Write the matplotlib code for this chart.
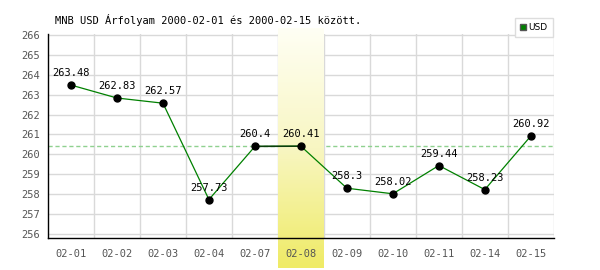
import numpy as np
import matplotlib.pyplot as plt
from matplotlib.colors import LinearSegmentedColormap

# MNB USD rates, 2000-02-01 .. 2000-02-15
dates = ["02-01", "02-02", "02-03", "02-04", "02-07", "02-08",
         "02-09", "02-10", "02-11", "02-14", "02-15"]
rates = [263.48, 262.83, 262.57, 257.73, 260.4, 260.41,
         258.3, 258.02, 259.44, 258.23, 260.92]
rate_labels = ["263.48", "262.83", "262.57", "257.73", "260.4", "260.41",
               "258.3", "258.02", "259.44", "258.23", "260.92"]
highlight_idx = 5
ref_rate = 260.41

mono = "DejaVu Sans Mono"

fig = plt.figure(figsize=(6, 2.7), dpi=100)
ax = fig.add_axes([0.08, 0.1185, 0.843, 0.756])

x = np.arange(len(dates))
ymin, ymax = 255.8, 266.05
ax.set_xlim(-0.5, len(dates) - 0.5)
ax.set_ylim(ymin, ymax)

# grid
for v in np.arange(-0.5, len(dates), 1.0)[1:]:
    ax.axvline(v, color="#d9d9d9", lw=1, zorder=1)
for v in range(256, 267):
    ax.axhline(v, color="#d9d9d9", lw=1, zorder=1)

ax.axhline(ref_rate, color="#8fd18f", lw=1, ls=(0, (3, 2)), zorder=1.2)

# highlighted day: white-to-yellow gradient, reaching past the axes
cmap = LinearSegmentedColormap.from_list("hl", ["#fffff4", "#f8f6c2", "#efeb66"])
grad = np.linspace(0, 1, 200).reshape(-1, 1)
ax.imshow(grad, cmap=cmap, aspect="auto", origin="upper",
          extent=(highlight_idx - 0.5, highlight_idx + 0.5, 254.3, 266.35),
          clip_on=False, zorder=1.5)

ax.plot(x, rates, color="#008000", lw=0.9, zorder=3)
ax.plot(x[highlight_idx - 1:highlight_idx + 1], rates[highlight_idx - 1:highlight_idx + 1],
        color="#0b3d0b", lw=1.1, zorder=3)
ax.plot(x, rates, "o", color="black", ms=5, zorder=4)

for xi, yi, lab in zip(x, rates, rate_labels):
    ax.annotate(lab, (xi, yi), xytext=(0, 5), textcoords="offset points",
                ha="center", va="bottom", fontsize=7.5, family=mono, zorder=5)

ax.set_xticks(x)
ax.set_xticklabels(dates, family=mono, fontsize=7.5, color="#555555")
ax.set_yticks(range(256, 267))
ax.set_yticklabels([str(v) for v in range(256, 267)], family=mono,
                   fontsize=7.5, color="#555555")
ax.tick_params(length=0, pad=8)
ax.tick_params(axis="y", pad=6)

for s in ["top", "right"]:
    ax.spines[s].set_visible(False)
for s in ["left", "bottom"]:
    ax.spines[s].set_color("black")
    ax.spines[s].set_linewidth(1)
    ax.spines[s].set_zorder(6)

fig.text(0.092, 0.925, "MNB USD Árfolyam 2000-02-01 és 2000-02-15 között.",
         family=mono, fontsize=7.5, ha="left", va="center")

# legend box
leg = fig.legend(handles=[plt.Line2D([], [], marker="s", ls="", color="#008000",
                                     markeredgecolor="#555555", ms=5)],
                 labels=["USD"], loc="lower right", bbox_to_anchor=(0.921, 0.863),
                 frameon=True, fancybox=False, edgecolor="#dddddd",
                 fontsize=6.5, handlelength=0.6, handletextpad=0.3,
                 borderpad=0.55, borderaxespad=0, framealpha=1)

fig.savefig("out.png", dpi=100)
